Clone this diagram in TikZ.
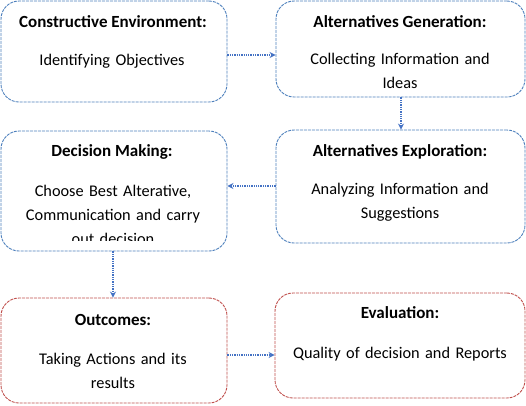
\documentclass[tikz,border=0pt]{standalone}
\usepackage{fontspec}
\setmainfont{Carlito}
\usetikzlibrary{arrows.meta}

\definecolor{boxblue}{RGB}{79,129,189}
\definecolor{boxred}{RGB}{192,80,77}
\definecolor{arrowblue}{RGB}{68,114,196}

\tikzset{
  stepbox/.style={draw=boxblue, line width=0.9pt, dash pattern=on 3pt off 1pt,
    rounded corners=18pt, fill=white, minimum width=#1, inner sep=0pt},
  redbox/.style={stepbox=#1, draw=boxred},
  flowarrow/.style={draw=arrowblue, line width=1.2pt, dash pattern=on 1.3pt off 1pt,
    -{Stealth[length=6pt,width=6pt]}},
  steptitle/.style={font=\fontsize{17}{24}\selectfont\bfseries, inner sep=0pt},
  steptext/.style={font=\fontsize{16.3}{24}\selectfont, align=center, inner sep=0pt, text width=240pt}
}

\begin{document}
\begin{tikzpicture}[x=1pt,y=-1pt]
  \useasboundingbox (0,0) rectangle (526,405);

  % boxes
  \node[stepbox=226pt, minimum height=101pt] (env) at (114,51.5) {};
  \node[stepbox=249pt, minimum height=96pt] (gen) at (400.5,49) {};
  \node[stepbox=226pt, minimum height=120pt] (dec) at (114,191) {};
  \node[stepbox=249pt, minimum height=113pt] (exp) at (400.5,186.5) {};
  \node[redbox=226pt, minimum height=105pt] (out) at (114,350.5) {};
  \node[redbox=250pt, minimum height=105pt] (eva) at (400,345.5) {};

  % titles
  \node[steptitle] (envtitle) at (113,22) {Constructive Environment:};
  \node[steptitle] (gentitle) at (400,22) {Alternatives Generation:};
  \node[steptitle] (dectitle) at (112,152) {Decision Making:};
  \node[steptitle] (exptitle) at (400,152) {Alternatives Exploration:};
  \node[steptitle] (outtitle) at (113,320) {Outcomes:};
  \node[steptitle] (evatitle) at (400,313) {Evaluation:};

  % texts
  \node[steptext, anchor=base] (envtext) at (112,65) {Identifying Objectives};
  \node[steptext, anchor=base] (gentext) at (400,64) {Collecting Information and\\Ideas};
  \begin{scope}
    \clip (0,131) rectangle (227,240.5);
    \node[steptext, anchor=base] (dectext) at (113,196) {Choose Best Alterative,\\Communication and carry\\out decision};
  \end{scope}
  \node[steptext, anchor=base] (exptext) at (400,194) {Analyzing Information and\\Suggestions};
  \node[steptext, anchor=base] (outtext) at (113,364) {Taking Actions and its\\results};
  \node[steptext, anchor=base] (evatext) at (400,358) {Quality of decision and Reports};

  % arrows
  \draw[flowarrow] (env.east |- 0,55) -- (gen.west |- 0,55);
  \draw[flowarrow] (gen.south -| 401,0) -- (exp.north -| 401,0);
  \draw[flowarrow] (exp.west |- 0,186) -- (dec.east |- 0,186);
  \draw[flowarrow] (dec.south -| 113,0) -- (out.north -| 113,0);
  \draw[flowarrow] (out.east |- 0,355) -- (eva.west |- 0,355);
\end{tikzpicture}
\end{document}
